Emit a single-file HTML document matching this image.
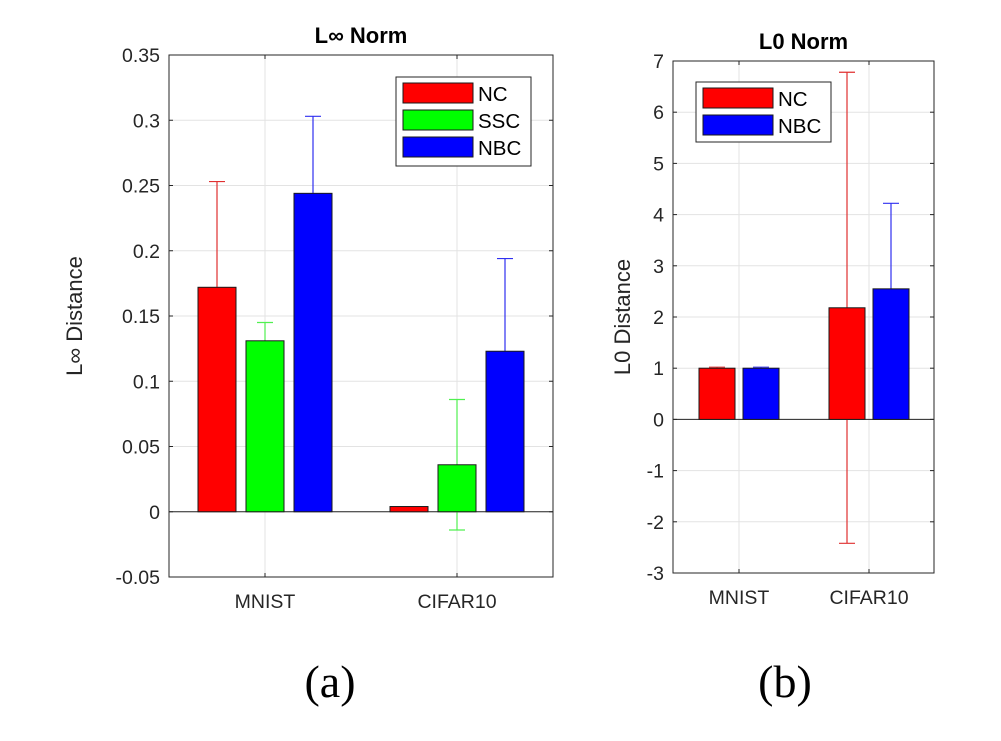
<!DOCTYPE html>
<html><head><meta charset="utf-8"><style>
body{margin:0;background:#fff}
svg{display:block;font-family:"Liberation Sans",sans-serif}
</style></head><body>
<svg id="c" width="1001" height="741" viewBox="0 0 1001 741">
<text x="330" y="697" font-family="Liberation Serif,serif" font-size="46" text-anchor="middle" fill="#000">(a)</text>
<text x="785" y="697" font-family="Liberation Serif,serif" font-size="46" text-anchor="middle" fill="#000">(b)</text>
</svg>
<script>
const categories=["MNIST","CIFAR10"];
const linfSeries=["NC","SSC","NBC"];
const linfNC=[0.172,0.004];
const linfSSC=[0.131,0.036];
const linfNBC=[0.244,0.123];
const linfErrNC=[0.081,0];
const linfErrSSC=[0.014,0.050];
const linfErrNBC=[0.059,0.071];
const linfTicks=[-0.05,0,0.05,0.1,0.15,0.2,0.25,0.3,0.35];
const l0Series=["NC","NBC"];
const l0NC=[1.0,2.18];
const l0NBC=[1.0,2.55];
const l0ErrNC=[0.02,4.6];
const l0ErrNBC=[0.02,1.67];
const l0Ticks=[-3,-2,-1,0,1,2,3,4,5,6,7];
const colors={NC:"#ff0000",SSC:"#00ff00",NBC:"#0000ff"};
const errColors={NC:"#e03030",SSC:"#50f050",NBC:"#3030f0"};
const NS="http://www.w3.org/2000/svg";
const svg=document.getElementById('c');
function mk(tag,attrs,parent){const e=document.createElementNS(NS,tag);for(const k in attrs)e.setAttribute(k,attrs[k]);(parent||svg).appendChild(e);return e;}

function panel(o){
  const g=mk('g',{});
  
  
  const y=v=>o.y1-(v-o.ymin)/(o.ymax-o.ymin)*(o.y1-o.y0);
  mk('rect',{x:o.x0,y:o.y0,width:o.x1-o.x0,height:o.y1-o.y0,fill:'#fff'},g);
  o.ticks.forEach(t=>{
    const gl=mk('line',{x1:o.x0,x2:o.x1,y1:y(t),y2:y(t),stroke:'#e3e3e3','stroke-width':1},g);
    
    
    const tl=mk('text',{x:o.x0-9,y:y(t)+7,'text-anchor':'end','font-size':19.5,fill:'#262626'},g);
    tl.textContent=String(t);
    
    
    mk('line',{x1:o.x0,x2:o.x0+4,y1:y(t),y2:y(t),stroke:'#262626'},g);
    mk('line',{x1:o.x1,x2:o.x1-4,y1:y(t),y2:y(t),stroke:'#262626'},g);
  });
  categories.forEach((c,i)=>{
    const cx=o.cx[i];
    mk('line',{x1:cx,x2:cx,y1:o.y0,y2:o.y1,stroke:'#e3e3e3'},g);
    mk('line',{x1:cx,x2:cx,y1:o.y1,y2:o.y1-4,stroke:'#262626'},g);
    mk('line',{x1:cx,x2:cx,y1:o.y0,y2:o.y0+4,stroke:'#262626'},g);
    const tl=mk('text',{x:cx,y:o.y1+31,'text-anchor':'middle','font-size':19.5,fill:'#262626'},g);
    tl.textContent=c;
    
    
  });
  mk('line',{x1:o.x0,x2:o.x1,y1:y(0),y2:y(0),stroke:'#262626','stroke-width':1},g);
  const n=o.series.length;
  o.series.forEach((s,k)=>{
    categories.forEach((c,i)=>{
      const bx=o.cx[i]+(k-(n-1)/2)*o.step;
      const v=o.vals[k][i],e=o.errs[k][i];
      if(e>0){
        const eb=mk('path',{d:`M${bx},${y(v-e)}V${y(v+e)}M${bx-8},${y(v+e)}H${bx+8}M${bx-8},${y(v-e)}H${bx+8}`,stroke:errColors[s],'stroke-width':1.2,fill:'none'},g);
        
        
      }
    });
  });
  o.series.forEach((s,k)=>{
    categories.forEach((c,i)=>{
      const bx=o.cx[i]+(k-(n-1)/2)*o.step;
      const v=o.vals[k][i];
      const b=mk('rect',{x:bx-o.bw/2,y:Math.min(y(v),y(0)),width:o.bw,height:Math.abs(y(v)-y(0)),fill:colors[s],stroke:'#1a1a1a','stroke-width':1},g);
      
      
    });
  });
  mk('rect',{x:o.x0,y:o.y0,width:o.x1-o.x0,height:o.y1-o.y0,fill:'none',stroke:'#262626','stroke-width':1},g);
  const t=mk('text',{x:(o.x0+o.x1)/2,y:o.y0-12,'text-anchor':'middle','font-size':22,'font-weight':'bold',fill:'#000'},g);
  t.textContent=o.title;
  
  
  const yl=mk('text',{x:0,y:0,transform:`translate(${o.ylx},${(o.y0+o.y1)/2}) rotate(-90)`,'text-anchor':'middle','font-size':22,fill:'#262626'},g);
  yl.textContent=o.ylabel;
  
  
  const L=o.leg;
  const lg=mk('g',{},g);
  
  
  mk('rect',{x:L.x,y:L.y,width:L.w,height:L.h,fill:'#fff',stroke:'#262626'},lg);
  o.series.forEach((s,k)=>{
    const ey=L.y+6+k*27;
    const e=mk('g',{},lg);
    
    
    mk('rect',{x:L.x+7,y:ey,width:70,height:20,fill:colors[s],stroke:'#1a1a1a'},e);
    const tx=mk('text',{x:L.x+82,y:ey+18,'font-size':20.5,fill:'#000'},e);
    tx.textContent=s;
  });
}
panel({name:'linf-norm-chart',x0:169,x1:553,y0:55,y1:577,ymin:-0.05,ymax:0.35,ticks:linfTicks,cx:[265,457],step:48,bw:38,
  series:linfSeries,vals:[linfNC,linfSSC,linfNBC],errs:[linfErrNC,linfErrSSC,linfErrNBC],title:'L∞ Norm',ylabel:'L∞ Distance',ylx:82,
  leg:{x:396,y:77,w:135,h:89}});
panel({name:'l0-norm-chart',x0:673,x1:934,y0:61,y1:573,ymin:-3,ymax:7,ticks:l0Ticks,cx:[739,869],step:44,bw:36,
  series:l0Series,vals:[l0NC,l0NBC],errs:[l0ErrNC,l0ErrNBC],title:'L0 Norm',ylabel:'L0 Distance',ylx:630,
  leg:{x:696,y:82,w:135,h:60}});
</script>
</body></html>
